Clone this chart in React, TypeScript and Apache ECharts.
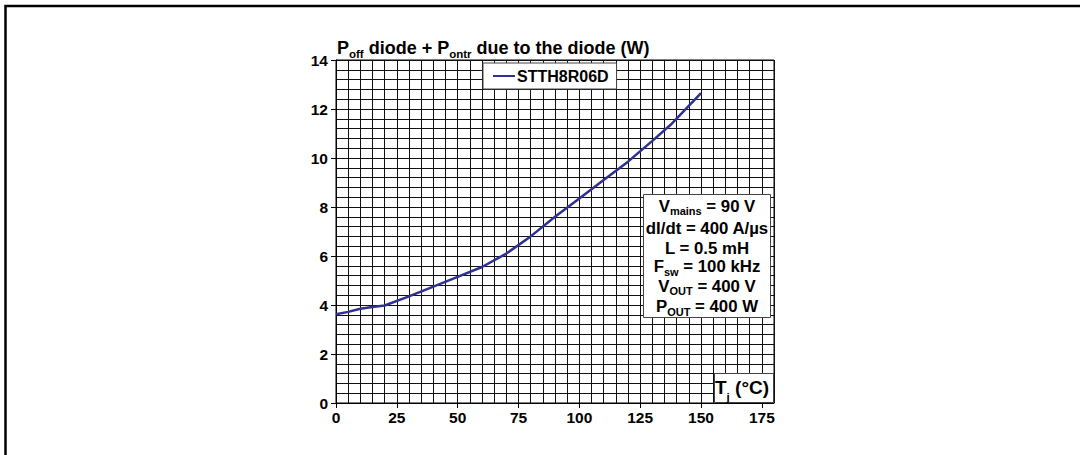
import React, { useEffect, useRef } from 'react';
import * as echarts from 'echarts';

// ---- data ----
const tjValues = [0, 5, 10, 15, 20, 30, 40, 50, 60, 70, 80, 90, 100, 110, 120, 130, 138, 150];
const powerValues = [3.62, 3.72, 3.85, 3.92, 3.98, 4.35, 4.75, 5.15, 5.55, 6.1, 6.8, 7.6, 8.35, 9.1, 9.85, 10.7, 11.4, 12.65];
const seriesName = 'STTH8R06D';
const xMin = 0;
const xMax = 180;
const xLabelStep = 25;
const xGridStep = 5;
const yMin = 0;
const yMax = 14;
const yLabelStep = 2;
const yGridSplit = 5;

type Part = [string, boolean?];
const titleParts: Part[] = [['P'], ['off', true], [' diode + P'], ['ontr', true], [' due to the diode (W)']];
const conditionLines: Part[][] = [
  [['V'], ['mains', true], [' = 90 V']],
  [['dI/dt = 400 A/µs']],
  [['L = 0.5 mH']],
  [['F'], ['sw', true], [' = 100 kHz']],
  [['V'], ['OUT', true], [' = 400 V']],
  [['P'], ['OUT', true], [' = 400 W']],
];
const xAxisTitleParts: Part[] = [['T'], ['j', true], [' (°C)']];

const FONT = '"Liberation Sans", Arial, Helvetica, sans-serif';
const LINE_COLOR = '#2e3192';

function richText(parts: Part[]): string {
  return parts.map(([t, sub]) => (sub ? `{s|${t}}` : `{m|${t}}`)).join('');
}

// main & sub both top-aligned; the sub is pushed down by top padding so that
// its baseline sits `drop` px below the main baseline
function richStyles(main: number, sub: number, drop: number) {
  const pad = 0.8465 * (main - sub) + drop;
  return {
    m: { fontSize: main, fontWeight: 'bold', fontFamily: FONT, fill: '#000', lineHeight: main, verticalAlign: 'top' },
    s: { fontSize: sub, fontWeight: 'bold', fontFamily: FONT, fill: '#000', lineHeight: sub, padding: [pad, 0, 0, 0], verticalAlign: 'top' },
  };
}

export default function App() {
  const ref = useRef<HTMLDivElement>(null);
  useEffect(() => {
    if (!ref.current) return;
    const chart = echarts.init(ref.current, undefined, { renderer: 'svg' });
    const lineData = tjValues.map((x, i) => [x, powerValues[i]]);
    const condCenters = [206, 228.3, 248.3, 266.7, 286.3, 306.7];

    const labelStyle = { fontSize: 15.5, fontWeight: 'bold', color: '#000', fontFamily: FONT };
    const gridLine = { color: '#111', width: 1 };
    const titleF = 18;
    const condF = 16.8;
    const tjF = 19;

    const option: any = {
      animation: false,
      grid: { left: 336, top: 60, width: 438, height: 343, show: true, borderColor: '#000', borderWidth: 1 },
      legend: {
        left: 483,
        top: 63,
        padding: [5, 8, 5, 10],
        itemWidth: 22,
        itemHeight: 14,
        backgroundColor: '#fff',
        borderColor: '#444',
        borderWidth: 1,
        z: 20,
        data: [{ name: seriesName, icon: 'path://M0,6 L22,6 L22,8 L0,8 Z' }],
        textStyle: { fontSize: 16, fontWeight: 'bold', color: '#000', fontFamily: FONT, padding: [0, 0, 0, -3] },
      },
      xAxis: [
        {
          type: 'value', min: xMin, max: xMax, interval: xLabelStep,
          axisLine: { show: true, lineStyle: { color: '#000', width: 1 } },
          axisTick: { show: true, length: 5, lineStyle: { color: '#000' } },
          axisLabel: { ...labelStyle, margin: 6, showMaxLabel: false },
          splitLine: { show: false },
        },
        {
          type: 'value', min: xMin, max: xMax, interval: xGridStep, position: 'bottom',
          axisLine: { show: false }, axisTick: { show: false }, axisLabel: { show: false },
          splitLine: { show: true, lineStyle: gridLine },
        },
      ],
      yAxis: {
        type: 'value', min: yMin, max: yMax, interval: yLabelStep,
        axisLine: { show: true, lineStyle: { color: '#000', width: 1 } },
        axisTick: { show: true, length: 5, lineStyle: { color: '#000' } },
        axisLabel: { ...labelStyle, margin: 8 },
        splitLine: { show: true, lineStyle: gridLine },
        minorTick: { show: false, splitNumber: yGridSplit },
        minorSplitLine: { show: true, lineStyle: gridLine },
      },
      series: [
        {
          name: seriesName, type: 'line', xAxisIndex: 0, yAxisIndex: 0, data: lineData,
          symbol: 'none', smooth: false,
          lineStyle: { color: LINE_COLOR, width: 2.5 }, itemStyle: { color: LINE_COLOR }, z: 5,
        },
      ],
      graphic: [
        {
          type: 'polyline', z: 50,
          shape: { points: [[1080, 6], [5.5, 6], [5.5, 455]] },
          style: { stroke: '#000', lineWidth: 2.5, fill: 'none' },
        },
        {
          type: 'text', z: 50, x: 337, y: 47.3 - 0.4885 * titleF,
          style: { text: richText(titleParts), rich: richStyles(titleF, 11.5, 4), align: 'left', verticalAlign: 'top' },
        },
        {
          type: 'rect', z: 40,
          shape: { x: 643.5, y: 194.5, width: 127, height: 123 },
          style: { fill: '#fff', stroke: '#444', lineWidth: 1 },
        },
        ...conditionLines.map((parts, i) => ({
          type: 'text', z: 50, x: 707, y: condCenters[i] - 0.4885 * condF,
          style: { text: richText(parts), rich: richStyles(condF, 11, 3), align: 'center', verticalAlign: 'top' },
        })),
        {
          type: 'rect', z: 40,
          shape: { x: 714.5, y: 373.5, width: 59, height: 29 },
          style: { fill: '#fff', stroke: '#444', lineWidth: 1 },
        },
        {
          type: 'text', z: 50, x: 715, y: 387.5 - 0.4885 * tjF,
          style: { text: richText(xAxisTitleParts), rich: richStyles(tjF, 11.5, 6), align: 'left', verticalAlign: 'top' },
        },
      ],
    };
    chart.setOption(option);
    return () => chart.dispose();
  }, []);
  return <div ref={ref} style={{ position: 'absolute', left: 0, top: 0, width: 1080, height: 455 }} />;
}
